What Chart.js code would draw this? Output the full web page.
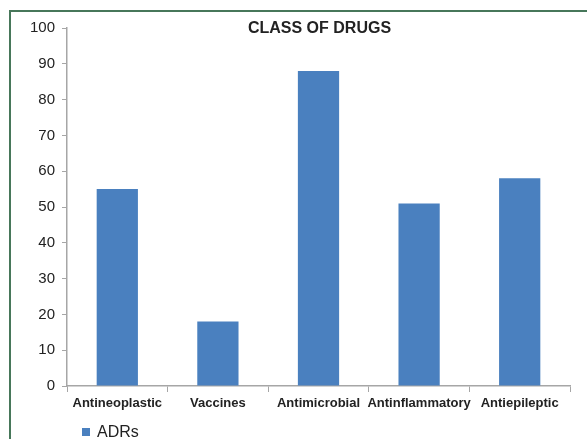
<!DOCTYPE html>
<html>
<head>
<meta charset="utf-8">
<script src="https://cdn.jsdelivr.net/npm/chart.js@4"></script>
<style>
  html, body { margin: 0; padding: 0; background: #fff; }
  #wrap { position: relative; width: 587px; height: 439px; overflow: hidden; }
  #frame { position: absolute; left: 9px; top: 10px; right: -5px; bottom: -5px;
           border-top: 2px solid #47775a; border-left: 2px solid #47775a; box-sizing: border-box; }
  #legend { position: absolute; left: 82px; top: 423px; font: 16px "Liberation Sans", Arial, sans-serif; color: #222; }
  #legend i { display: inline-block; width: 8px; height: 8px; background: #4a80bf; margin-right: 7px; vertical-align: 1px; }
  canvas { position: absolute; left: 0; top: 0; }
</style>
</head>
<body>
<div id="wrap">
  <div id="frame"></div>
  <canvas id="drugChart" width="587" height="439"></canvas>
  <div id="legend"><i></i>ADRs</div>
</div>
<script>
const categories = ["Antineoplastic", "Vaccines", "Antimicrobial", "Antinflammatory", "Antiepileptic"];
const adrs = [55, 18, 88, 51, 58];
const seriesName = "ADRs";
const chartTitle = "CLASS OF DRUGS";

// draw the title inside the plot area, like the original
const titleInside = {
  id: "titleInside",
  afterDraw(chart) {
    const ctx = chart.ctx;
    const area = chart.chartArea;
    ctx.save();
    ctx.font = "bold 16px 'Liberation Sans', Arial, sans-serif";
    ctx.fillStyle = "#222";
    ctx.textAlign = "center";
    ctx.textBaseline = "middle";
    ctx.fillText(chartTitle, (area.left + area.right) / 2 + 1, area.top + 1);
    ctx.restore();
  }
};

const data = {
  labels: categories,
  datasets: [
    {
      label: seriesName,
      data: adrs,
      backgroundColor: "#4a80bf",
      categoryPercentage: 1,
      barPercentage: 0.41,
    },
  ],
};

const config = {
  type: "bar",
  data: data,
  options: {
    responsive: false,
    animation: false,
    layout: { padding: { top: 28, right: 17, bottom: 0, left: 0 } },
    plugins: {
      legend: { display: false },
      title: { display: false },
      tooltip: { enabled: false }
    },
    scales: {
      x: {
        afterFit(scale) { scale.height = 53; },
        grid: { drawOnChartArea: false, drawTicks: true, tickLength: 6, color: "#a6a6a6" },
        border: { color: "#a6a6a6", width: 1.5 },
        ticks: {
          padding: 4,
          color: "#222",
          font: { family: "'Liberation Sans', Arial, sans-serif", size: 13, weight: "bold" },
          maxRotation: 0,
          autoSkip: false
        }
      },
      y: {
        min: 0,
        max: 100,
        afterFit(scale) { scale.width = 67; },
        grid: { drawOnChartArea: false, drawTicks: true, tickLength: 5, color: "#a6a6a6" },
        border: { color: "#a6a6a6", width: 1.5 },
        ticks: {
          stepSize: 10,
          padding: 7,
          color: "#222",
          font: { family: "'Liberation Sans', Arial, sans-serif", size: 15 }
        }
      }
    }
  },
  plugins: [titleInside]
};

let myChart = new Chart(document.getElementById("drugChart"), config);
</script>
</body>
</html>
